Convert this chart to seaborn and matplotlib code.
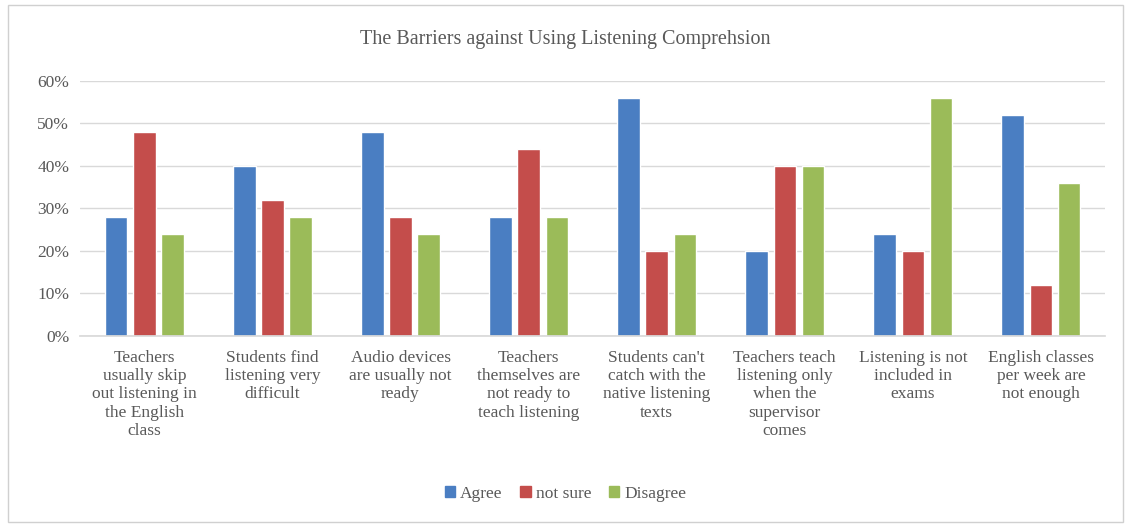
import matplotlib.pyplot as plt
import matplotlib.patches as mpatches
from matplotlib.ticker import PercentFormatter
import seaborn as sns
import pandas as pd

# -------------------- Data --------------------

categories = [
    "Teachers\nusually skip\nout listening in\nthe English\nclass",
    "Students find\nlistening very\ndifficult",
    "Audio devices\nare usually not\nready",
    "Teachers\nthemselves are\nnot ready to\nteach listening",
    "Students can't\ncatch with the\nnative listening\ntexts",
    "Teachers teach\nlistening only\nwhen the\nsupervisor\ncomes",
    "Listening is not\nincluded in\nexams",
    "English classes\nper week are\nnot enough",
]
agree = [0.28, 0.40, 0.48, 0.28, 0.56, 0.20, 0.24, 0.52]
not_sure = [0.48, 0.32, 0.28, 0.44, 0.20, 0.40, 0.20, 0.12]
disagree = [0.24, 0.28, 0.24, 0.28, 0.24, 0.40, 0.56, 0.36]
series = ["Agree", "not sure", "Disagree"]
yticks = [0, 0.1, 0.2, 0.3, 0.4, 0.5, 0.6]

colors = ["#4A7EC2", "#C44D4B", "#9BBB59"]
text_color = "#595959"

# -------------------- Plot --------------------

df = pd.DataFrame({"category": categories, "Agree": agree,
                   "not sure": not_sure, "Disagree": disagree})
long_df = df.melt(id_vars="category", value_vars=series,
                  var_name="response", value_name="share")

sns.set_theme(style="white")
plt.rcParams["font.family"] = ["Liberation Serif", "DejaVu Serif"]

fig = plt.figure(figsize=(11.31, 5.28), dpi=100)
ax = fig.add_axes([0.071, 0.364, 0.906, 0.483])

sns.barplot(
    data=long_df,
    x="category",
    y="share",
    hue="response",
    hue_order=series,
    palette=colors,
    saturation=1,
    width=0.66,
    gap=0.2,
    errorbar=None,
    ax=ax,
)

ax.set_ylim(0, 0.6)
ax.set_yticks(yticks)
ax.yaxis.set_major_formatter(PercentFormatter(1.0, decimals=0))
ax.grid(True, axis="y", color="#D9D9D9", linewidth=1)
ax.set_axisbelow(True)
for side in ["top", "right", "left"]:
    ax.spines[side].set_visible(False)
ax.spines["bottom"].set_color("#D9D9D9")
ax.set_xlabel("")
ax.set_ylabel("")
ax.tick_params(axis="both", length=0, labelsize=12.5, colors=text_color, pad=8)
ax.tick_params(axis="x", pad=10)
for lbl in ax.get_xticklabels():
    lbl.set_linespacing(1.2)
ax.set_xlim(-0.5, len(categories) - 0.5)

ax.legend_.remove()
handles = [mpatches.Patch(color=c, label=s) for c, s in zip(colors, series)]
fig.legend(handles=handles, loc="center", bbox_to_anchor=(0.5, 0.065), ncol=3,
           frameon=False, fontsize=12.5, handlelength=0.6, handleheight=0.6,
           handletextpad=0.3, columnspacing=1.0, labelcolor=text_color)

fig.text(0.5, 0.925, "The Barriers against Using Listening Comprehsion",
         ha="center", va="center", fontsize=14.5, color=text_color)

border = mpatches.Rectangle((0.007, 0.012), 0.986, 0.978, transform=fig.transFigure,
                            fill=False, edgecolor="#D0D0D0", linewidth=1)
fig.patches.append(border)

fig.savefig("out.png", dpi=100)
